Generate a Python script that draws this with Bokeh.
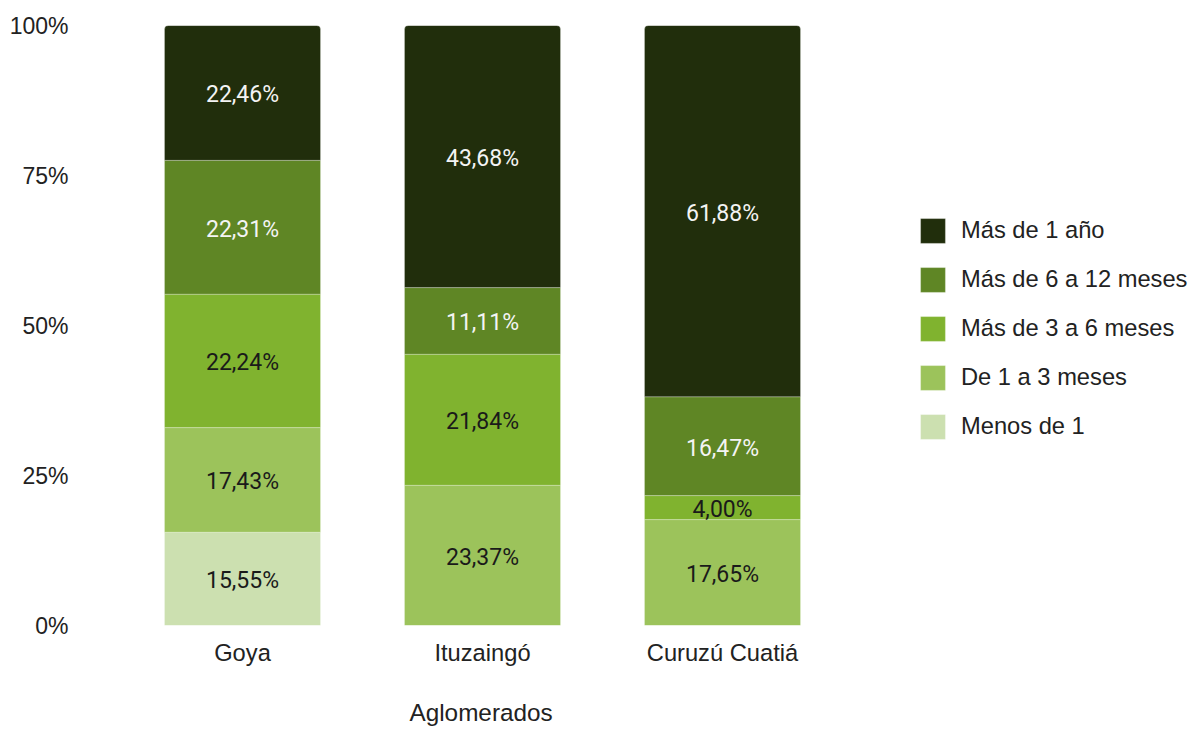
from bokeh.plotting import figure
from bokeh.models import Range1d, FixedTicker, Legend, LegendItem, ColumnDataSource, Title
from bokeh.core.properties import value
from bokeh.embed import file_html
from bokeh.resources import INLINE

categories = ["Goya", "Ituzaingó", "Curuzú Cuatiá"]
series_names = ["Menos de 1", "De 1 a 3 meses", "Más de 3 a 6 meses",
                "Más de 6 a 12 meses", "Más de 1 año"]
menos_de_1 = [15.55, 0.0, 0.0]
de_1_a_3 = [17.43, 23.37, 17.65]
mas_3_a_6 = [22.24, 21.84, 4.00]
mas_6_a_12 = [22.31, 11.11, 16.47]
mas_1_ano = [22.46, 43.68, 61.88]
y_ticks = [0, 25, 50, 75, 100]
y_tick_labels = ["0%", "25%", "50%", "75%", "100%"]
x_title = "Aglomerados"

colors = ["#cce0b0", "#9cc35b", "#80b32f", "#5f8625", "#212e0c"]
text_colors = ["#1a1a1a", "#1a1a1a", "#1a1a1a", "#f4f4f4", "#f4f4f4"]
series = [menos_de_1, de_1_a_3, mas_3_a_6, mas_6_a_12, mas_1_ano]
keys = ["s0", "s1", "s2", "s3", "s4"]

FONT = "Liberation Sans"
FS = "23px"
FS_L = "23.7px"
FRAME_W = 1072

xs = [i + 0.5 for i in range(len(categories))]
data = {"x": xs}
for k, s in zip(keys, series):
    data[k] = s
src = ColumnDataSource(data)

p = figure(frame_width=FRAME_W, frame_height=600,
           min_border_left=122, min_border_right=0, min_border_top=25, min_border_bottom=104,
           x_range=Range1d(0, FRAME_W / 240), y_range=Range1d(0, 100),
           output_backend="svg", toolbar_location=None, tools="")

renderers = p.vbar_stack(keys, x="x", width=0.65, source=src, color=colors,
                         line_color="white", line_alpha=0.25, line_width=1)
try:
    renderers[-1].glyph.border_radius = (4, 4, 0, 0)
except Exception:
    pass

# segment labels
lx, ly, lt, lc = [], [], [], []
for i in range(len(categories)):
    base = 0.0
    for j, s in enumerate(series):
        v = s[i]
        if v > 0:
            lx.append(xs[i])
            ly.append(base + v / 2)
            lt.append(f"{v:.2f}".replace(".", ",") + "%")
            lc.append(text_colors[j])
        base += v
lsrc = ColumnDataSource(dict(x=lx, y=ly, t=lt, c=lc))
p.text(x="x", y="y", text="t", text_color="c", source=lsrc,
       text_align="center", text_baseline="middle", y_offset=2,
       text_font=value("Roboto"), text_font_size=FS)

# axes
xax = p.xaxis[0]
yax = p.yaxis[0]
xax.ticker = FixedTicker(ticks=xs)
xax.major_label_overrides = {x: c for x, c in zip(xs, categories)}
yax.ticker = FixedTicker(ticks=y_ticks)
yax.major_label_overrides = {t: l for t, l in zip(y_ticks, y_tick_labels)}
for ax, fs, so in ((xax, FS_L, 14), (yax, FS, 54)):
    ax.axis_line_color = None
    ax.major_tick_line_color = None
    ax.minor_tick_line_color = None
    ax.major_tick_out = 0
    ax.major_tick_in = 0
    ax.minor_tick_out = 0
    ax.major_label_text_font = FONT
    ax.major_label_text_font_size = fs
    ax.major_label_text_color = "#222222"
    ax.major_label_standoff = so

p.add_layout(Title(text=x_title, align="left", offset=287, standoff=57,
                   text_font=FONT, text_font_size="24.3px", text_font_style="normal",
                   text_color="#222222"), "below")

p.xgrid.grid_line_color = None
p.ygrid.grid_line_color = None
p.outline_line_color = None

items = [LegendItem(label=series_names[j], renderers=[renderers[j]]) for j in reversed(range(5))]
legend = Legend(items=items, location=(795, 183.5), orientation="vertical",
                glyph_width=31, glyph_height=31, label_height=25, spacing=18,
                label_standoff=13, padding=0, margin=0,
                label_text_font=FONT, label_text_font_size=FS_L, label_text_color="#222222",
                background_fill_alpha=0, border_line_color=None)
p.add_layout(legend)

open("out.html", "w").write(file_html(p, INLINE))
